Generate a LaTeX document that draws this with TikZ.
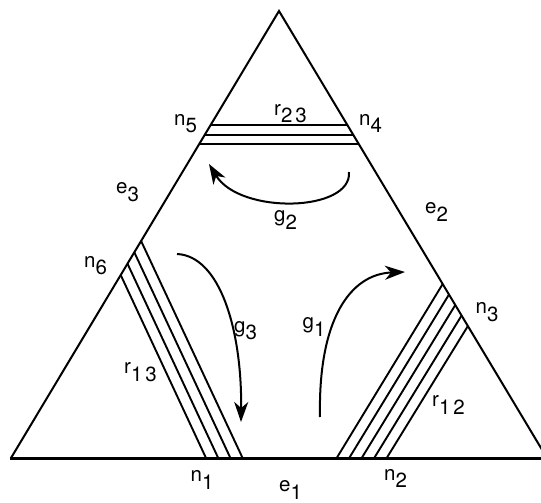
\documentclass[tikz,border=0pt]{standalone}
\usepackage{fontspec}
\setmainfont{TeX Gyre Heros}
\usetikzlibrary{arrows.meta}
\newcommand{\sublbl}[2]{#1\raisebox{-7.7pt}{#2}}

\begin{document}
\begin{tikzpicture}[
  x=1pt, y=-1pt,
  >={Stealth[length=20pt,width=14pt,inset=6pt]},
  font=\fontsize{20.5}{24}\selectfont,
  side/.style={line width=2pt, line join=miter},
  baseedge/.style={line width=3pt},
  strand/.style={line width=1.9pt},
  flow/.style={->, line width=2pt},
  tag/.style={anchor=base west, inner sep=0pt}
]
\useasboundingbox (0,0) rectangle (541,503);
\clip (0,0) rectangle (541,503);

% =====================================================================
% Triangle
% =====================================================================
\coordinate (V1) at (11,458);
\coordinate (V2) at (547,458);
\coordinate (Top) at (279,11);

\draw[side] (V1) -- (Top) -- (V2);
\draw[baseedge] (9.5,458) -- (552,458);

% =====================================================================
% Ribbons
% =====================================================================

% -- r23 : three strands across the top --
\draw[strand] (210.6,125.0) -- (347.4,125.0);
\draw[strand] (204.8,134.7) -- (353.2,134.7);
\draw[strand] (199.1,144.3) -- (358.9,144.3);

% -- r13 : four strands from e3 down to e1 --
\draw[strand] (120.7,275.0) -- (206.0,458);
\draw[strand] (127.5,263.7) -- (218.2,458);
\draw[strand] (134.3,252.3) -- (230.4,458);
\draw[strand] (141.1,241.0) -- (242.6,458);

% -- r12 : five strands from e2 down to e1 --
\draw[strand] (442.7,284.0) -- (336.7,458);
\draw[strand] (449.0,294.5) -- (349.2,458);
\draw[strand] (455.3,305.0) -- (361.7,458);
\draw[strand] (461.6,315.5) -- (374.2,458);
\draw[strand] (467.9,326.0) -- (386.7,458);

% =====================================================================
% Flows
% =====================================================================
\coordinate (g2start) at (349,172);
\coordinate (g2end) at (209,164);
\draw[flow] (g2start) .. controls (352,212) and (240,215) .. (g2end);

\coordinate (g3start) at (177,254);
\coordinate (g3end) at (241,422);
\draw[flow] (g3start) .. controls (220,256) and (242,330) .. (g3end);

\coordinate (g1start) at (320,417);
\coordinate (g1end) at (405,272);
\draw[flow] (g1start) .. controls (318,320) and (350,274) .. (g1end);

% =====================================================================
% Labels
% =====================================================================
\node[tag] (n5) at (174,125) {\sublbl{n}{5}};
\node[tag] (n4) at (359,125) {\sublbl{n}{4}};
\node[tag] (r23) at (274,115) {\sublbl{r}{2\kern3pt 3}};
\node[tag] (e3) at (116,193.5) {\sublbl{e}{3}};
\node[tag] (g2) at (274,221.7) {\sublbl{g}{2}};
\node[tag] (e2) at (425,213.5) {\sublbl{e}{2}};
\node[tag] (n6) at (84,267) {\sublbl{n}{6}};
\node[tag] (g3) at (234,332) {\sublbl{g}{3}};
\node[tag] (g1) at (302.5,328.3) {\sublbl{g}{1}};
\node[tag] (n3) at (475.5,313.3) {\sublbl{n}{3}};
\node[tag] (r13) at (124,373.5) {\sublbl{r}{1\kern3pt 3}};
\node[tag] (r12) at (432,406.7) {\sublbl{r}{1\kern3pt 2}};
\node[tag] (n1) at (190.5,481.7) {\sublbl{n}{1}};
\node[tag] (n2) at (384,480) {\sublbl{n}{2}};
\node[tag] (e1) at (279,491.5) {\sublbl{e}{1}};

\end{tikzpicture}
\end{document}
